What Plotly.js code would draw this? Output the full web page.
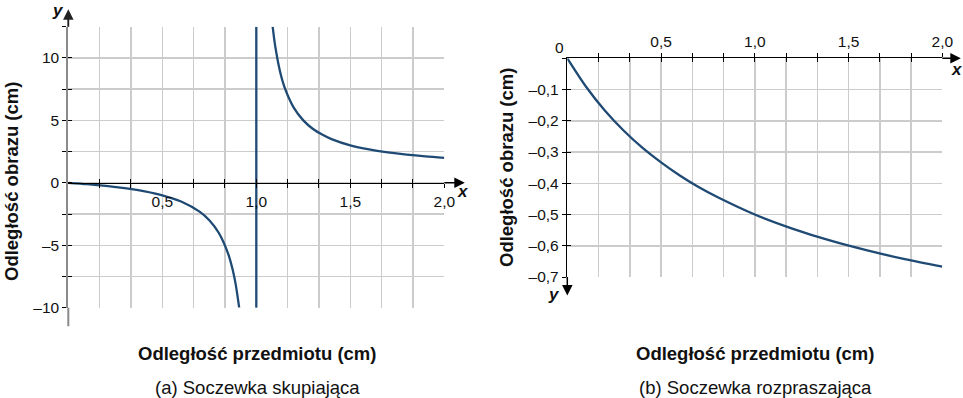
<!DOCTYPE html>
<html>
<head>
<meta charset="utf-8">
<script src="https://cdn.plot.ly/plotly-3.0.1.min.js"></script>
<style>html,body{margin:0;padding:0;background:#fff;}#chart{width:963px;height:398px;}</style>
</head>
<body>
<div id="chart"></div>
<script>
// ---- data ----
// (a) converging lens: branch left of the focal point
const convLeftX = [0, 0.1, 0.2, 0.3, 0.4, 0.5, 0.6, 0.7, 0.75, 0.8, 0.85, 0.875, 0.89, 0.909];
const convLeftY = [0, -0.11, -0.25, -0.43, -0.67, -1.0, -1.5, -2.33, -3.0, -4.0, -5.67, -7.0, -8.09, -10.0];
// (a) converging lens: branch right of the focal point
const convRightX = [1.087, 1.1, 1.125, 1.15, 1.2, 1.25, 1.3, 1.35, 1.4, 1.5, 1.6, 1.7, 1.8, 1.9, 2.0];
const convRightY = [12.5, 11.0, 9.0, 7.67, 6.0, 5.0, 4.33, 3.86, 3.5, 3.0, 2.67, 2.43, 2.25, 2.11, 2.0];
// (a) asymptote drawn at the focal length
const asymX = [1.0, 1.0];
const asymY = [-10, 12.5];
// (b) diverging lens
const divX = [0, 0.1, 0.2, 0.3, 0.4, 0.5, 0.6, 0.7, 0.8, 1.0, 1.2, 1.4, 1.6, 1.8, 2.0];
const divY = [0, -0.091, -0.167, -0.231, -0.286, -0.333, -0.375, -0.412, -0.444, -0.5, -0.545, -0.583, -0.615, -0.643, -0.667];

// ---- tick labels ----
const xLabelVals = [0.5, 1.0, 1.5, 2.0];
const xLabels = ['0,5', '1,0', '1,5', '2,0'];
const yLeftLabelVals = [-10, -5, 0, 5, 10];
const yLeftLabels = ['\u201310', '\u20135', '0', '5', '10'];
const yRightLabelVals = [-0.7, -0.6, -0.5, -0.4, -0.3, -0.2, -0.1, 0];
const yRightLabels = ['\u20130,7', '\u20130,6', '\u20130,5', '\u20130,4', '\u20130,3', '\u20130,2', '\u20130,1', ''];

const titleX = 'Odległość przedmiotu (cm)';
const titleY = 'Odległość obrazu (cm)';
const subA = '(a) Soczewka skupiająca';
const subB = '(b) Soczewka rozpraszająca';

// ---- layout helpers ----
const W = 963, H = 398;
const px = v => v / W;
const py = v => 1 - v / H;
function labelsFor(vals, lv, lt) {
  return vals.map(v => { const i = lv.findIndex(q => Math.abs(q - v) < 1e-6); return i >= 0 ? lt[i] : ''; });
}
const xGrid = []; for (let k = 1; k <= 12; k++) xGrid.push(k / 6);
const yLeftGrid = []; for (let k = -4; k <= 5; k++) yLeftGrid.push(k * 2.5);
const yRightGrid = []; for (let k = -7; k <= 0; k++) yRightGrid.push(k / 10);

const xRange = [0, 2];
const yLeftRange = [-10, 12.5];
const yRightRange = [-0.7, 0];

const domXL = [px(68.3), px(444.3)], domYL = [py(307.7), py(26.7)];
const domXR = [px(567.3), px(942.3)], domYR = [py(277), py(58.3)];
const posL = domYL[0] + (0 - yLeftRange[0]) / (yLeftRange[1] - yLeftRange[0]) * (domYL[1] - domYL[0]);

const curveColor = '#1f4a74';
const gridColor = '#cccccc';
const tickFont = {family: 'Liberation Sans, Arial, sans-serif', size: 15.5, color: '#111'};
const titleFont = {family: 'Liberation Sans, Arial, sans-serif', size: 18.5, color: '#111'};

const lineStyle = {color: curveColor, width: 2.3, shape: 'spline', smoothing: 0.8};

const traces = [
  {x: convLeftX, y: convLeftY, xaxis: 'x', yaxis: 'y', mode: 'lines', line: lineStyle, hoverinfo: 'skip', showlegend: false},
  {x: convRightX, y: convRightY, xaxis: 'x', yaxis: 'y', mode: 'lines', line: lineStyle, hoverinfo: 'skip', showlegend: false},
  {x: asymX, y: asymY, xaxis: 'x', yaxis: 'y', mode: 'lines', line: {color: curveColor, width: 2.3}, hoverinfo: 'skip', showlegend: false},
  {x: divX, y: divY, xaxis: 'x2', yaxis: 'y2', mode: 'lines', line: lineStyle, hoverinfo: 'skip', showlegend: false},
  {x: [], y: [], xaxis: 'x3', yaxis: 'y3', mode: 'lines', hoverinfo: 'skip', showlegend: false},
  {x: [], y: [], xaxis: 'x4', yaxis: 'y4', mode: 'lines', hoverinfo: 'skip', showlegend: false}
];

const baseAx = {fixedrange: true, zeroline: false, tickfont: tickFont, tickmode: 'array', ticklen: 4, tickwidth: 1, tickcolor: '#000', gridcolor: gridColor, gridwidth: 1.5};

const tickOnly = {fixedrange: true, zeroline: false, showgrid: false, showline: false, showticklabels: false, tickmode: 'array', ticks: 'inside', ticklen: 4, tickwidth: 1, tickcolor: '#000'};

function arrowAnn(xref, yref, x, y, ax, ay, head, color, width) {
  return {xref: xref, yref: yref, x: x, y: y, ax: ax, ay: ay, axref: 'pixel', ayref: 'pixel', text: '', showarrow: true,
    arrowside: head ? 'start' : 'end', arrowhead: 0, arrowsize: 1,
    startarrowhead: 2, startarrowsize: 1.4,
    arrowwidth: width, arrowcolor: color, standoff: 0, startstandoff: 0};
}
function textAnn(xp, yp, text, font, angle) {
  return {xref: 'paper', yref: 'paper', x: px(xp), y: py(yp), text: text, showarrow: false, xanchor: 'center', yanchor: 'middle', font: font, textangle: angle || 0};
}
const letterFont = {family: 'Liberation Sans, Arial, sans-serif', size: 17, color: '#111'};

const layout = {
  width: W, height: H, autosize: false,
  margin: {l: 0, r: 0, t: 0, b: 0, pad: 0},
  paper_bgcolor: '#fff', plot_bgcolor: '#fff',
  showlegend: false,
  xaxis: Object.assign({}, baseAx, {domain: domXL, range: xRange, anchor: 'free', position: posL, tickvals: xGrid, ticktext: labelsFor(xGrid, xLabelVals, xLabels), ticks: 'outside', showline: true, linecolor: '#000', linewidth: 1.5, showgrid: true}),
  yaxis: Object.assign({}, baseAx, {domain: domYL, range: yLeftRange, anchor: 'x', tickvals: yLeftGrid, ticktext: labelsFor(yLeftGrid, yLeftLabelVals, yLeftLabels), ticks: 'outside', showline: true, linecolor: '#8a8a8a', linewidth: 2, showgrid: true}),
  xaxis2: Object.assign({}, baseAx, {domain: domXR, range: xRange, anchor: 'y2', side: 'top', tickvals: xGrid, ticktext: labelsFor(xGrid, xLabelVals, xLabels), ticks: 'outside', showline: true, linecolor: '#000', linewidth: 1.5, showgrid: true}),
  yaxis2: Object.assign({}, baseAx, {domain: domYR, range: yRightRange, anchor: 'x2', tickvals: yRightGrid, ticktext: labelsFor(yRightGrid, yRightLabelVals, yRightLabels), ticks: 'outside', showline: true, linecolor: '#000', linewidth: 1.5, showgrid: true}),
  xaxis3: Object.assign({}, tickOnly, {overlaying: 'x', range: xRange, anchor: 'free', position: posL, tickvals: xGrid}),
  yaxis3: Object.assign({}, tickOnly, {overlaying: 'y', range: yLeftRange, anchor: 'x', tickvals: yLeftGrid}),
  xaxis4: Object.assign({}, tickOnly, {overlaying: 'x2', range: xRange, anchor: 'y2', side: 'top', tickvals: xGrid}),
  yaxis4: Object.assign({}, tickOnly, {overlaying: 'y2', range: yRightRange, anchor: 'x2', tickvals: yRightGrid}),
  annotations: [
    arrowAnn('x', 'y', xRange[1], 0, 22, 0, true, '#000', 1.5),
    arrowAnn('x', 'y', 0, yLeftRange[1], 0, -10, false, '#8a8a8a', 2),
    arrowAnn('x', 'y', 0, yLeftRange[1], 0, -19, true, '#222', 1.5),
    arrowAnn('x', 'y', 0, yLeftRange[0], 0, 20, false, '#8a8a8a', 2),
    arrowAnn('x2', 'y2', xRange[1], 0, 20, 0, true, '#000', 1.5),
    arrowAnn('x2', 'y2', 0, yRightRange[0], 0, 20, true, '#000', 1.5),
    textAnn(257, 353, '<b>' + titleX + '</b>', titleFont),
    textAnn(257, 387, subA, titleFont),
    textAnn(755, 353, '<b>' + titleX + '</b>', titleFont),
    textAnn(755, 387, subB, titleFont),
    textAnn(11, 182, '<b>' + titleY + '</b>', titleFont, -90),
    textAnn(506, 168, '<b>' + titleY + '</b>', titleFont, -90),
    textAnn(58, 11, '<b><i>y</i></b>', letterFont),
    textAnn(463, 191, '<b><i>x</i></b>', letterFont),
    textAnn(957, 69, '<b><i>x</i></b>', letterFont),
    textAnn(554, 294, '<b><i>y</i></b>', letterFont),
    textAnn(559, 47, '0', tickFont)
  ]
};

Plotly.newPlot('chart', traces, layout, {staticPlot: true, displayModeBar: false});
</script>
</body>
</html>
